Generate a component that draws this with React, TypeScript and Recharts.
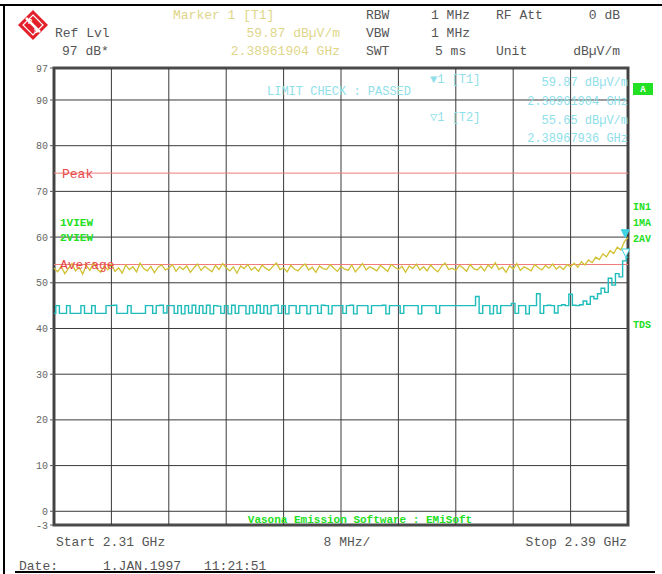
import {
  CartesianGrid,
  Line,
  LineChart,
  ReferenceArea,
  ReferenceDot,
  ReferenceLine,
  XAxis,
  YAxis,
} from "recharts";

// sweep: 2.31 .. 2.39 GHz, 161 points, 0.5 MHz apart
const startMHz = 2310;
const stopMHz = 2390;
const stepMHz = 0.5;

const xTicks = [2310, 2318, 2326, 2334, 2342, 2350, 2358, 2366, 2374, 2382, 2390];
const yTicks = [-3, 0, 10, 20, 30, 40, 50, 60, 70, 80, 90, 97];

// trace 1 (peak, 1VIEW) in dBµV/m
const trace1 = [
  53.2, 52.4, 53.6, 52.0, 53.1, 54.2, 52.6, 53.4, 51.9, 53.8, 52.7, 54.4, 53.0, 52.3, 53.7, 52.8, 54.1, 52.5, 53.3, 52.1,
  53.9, 52.9, 53.5, 52.4, 54.3, 53.1, 52.6, 53.6, 52.2, 53.4, 53.9, 52.8, 53.2, 54.0, 52.5, 53.5, 52.9, 53.7, 52.3, 53.3,
  54.1, 52.7, 53.6, 53.0, 52.4, 53.8, 52.9, 54.2, 53.3, 52.6, 53.5, 52.1, 53.7, 53.1, 54.0, 52.8, 53.4, 52.5, 53.9, 53.2,
  52.7, 53.6, 54.3, 52.9, 53.3, 52.4, 53.8, 53.0, 52.6, 53.5, 54.1, 52.8, 53.4, 52.3, 53.7, 53.1, 52.9, 54.0, 53.2, 52.5,
  53.6, 53.0, 52.7, 53.9, 52.4, 53.3, 54.2, 52.8, 53.5, 53.1, 52.6, 53.8, 53.2, 52.5, 54.0, 53.4, 52.9, 53.6, 52.3, 53.7,
  53.1, 54.1, 52.8, 53.5, 52.6, 53.9, 53.0, 52.4, 53.6, 54.3, 52.9, 53.2, 52.7, 53.8, 53.3, 52.5, 54.0, 53.1, 52.8, 53.6,
  52.6, 53.9, 53.2, 54.4, 52.9, 53.4, 52.3, 53.7, 53.0, 54.2, 52.7, 53.5, 53.1, 52.6, 54.0, 53.3, 52.8, 53.8, 53.2, 54.1,
  53.0, 53.6, 52.9, 54.0, 53.5, 54.3, 53.4, 54.6, 53.9, 55.0, 54.4, 55.6, 55.1, 56.3, 55.7, 57.0, 56.4, 57.8, 57.2, 59.0, 59.9,
];

// trace 2 (average, 2VIEW) in dBµV/m
const trace2 = [
  43.3, 45.0, 43.3, 43.3, 45.0, 43.3, 43.3, 43.3, 45.0, 43.3, 43.3, 45.0, 43.3, 43.3, 43.3, 45.0, 45.0, 45.1, 43.3, 43.3,
  43.3, 45.0, 43.3, 43.3, 43.3, 43.3, 45.0, 45.0, 43.3, 45.0, 45.1, 43.4, 45.0, 45.0, 43.3, 45.0, 43.2, 45.0, 43.4, 45.1,
  43.3, 45.0, 43.3, 45.1, 43.2, 45.0, 44.9, 43.3, 45.0, 43.2, 45.1, 43.3, 45.0, 45.0, 43.2, 45.0, 43.4, 45.1, 43.3, 45.0,
  43.2, 45.0, 45.1, 43.3, 45.0, 43.2, 45.0, 45.0, 43.3,
  45.0, 45.0, 43.2, 45.0, 45.0, 43.3, 45.1, 45.0, 43.2, 45.0, 45.0, 45.0, 43.3, 45.0, 45.1, 43.2, 45.0, 45.0, 45.0, 43.3,
  45.0, 45.0, 45.0, 45.1, 43.2, 45.0, 45.0, 45.0, 43.3, 45.0, 45.0, 45.0, 45.0, 43.2, 45.0, 45.0, 45.0, 45.0, 43.3, 45.0,
  45.0, 45.0, 45.0, 45.0, 45.0, 45.0, 45.0, 45.0, 45.0, 47.0, 43.3, 45.0, 45.0, 43.2, 45.0, 43.3, 45.0, 45.0, 45.0, 45.5,
  43.3, 45.0, 45.0, 43.2, 45.0, 45.0, 47.6, 43.3, 45.0, 45.1, 45.0, 43.4, 45.0, 45.2, 45.0, 47.5, 45.1, 45.0, 45.2, 46.0,
  45.3, 47.0, 46.5, 47.6, 48.8, 47.9, 51.0, 49.5, 52.0, 51.3, 54.8, 55.6,
];

const peakLimit = 74;
const averageLimit = 54;
const marker1 = { f: 2389.62, v: 59.87 };
const marker2 = { f: 2389.68, v: 55.65 };

const freqs = trace1.map((_, i) => startMHz + i * stepMHz);
const data = freqs.map((f, i) => ({ f, t1: trace1[i], t2: trace2[i] }));

const MONO = "'Liberation Mono', 'DejaVu Sans Mono', monospace";
const GRAY = "#555";
const PALE_YELLOW = "#e0d68a";
const PALE_CYAN = "#8fe0ea";
const GREEN = "#22e022";
const MARK = "#3fd2e2";
const GRID = "#3a3a3a";

// eslint-disable-next-line @typescript-eslint/no-explicit-any
function Tri({ cx, cy, filled }: any) {
  if (cx == null || cy == null) return null;
  return (
    <path
      d={`M${cx - 4},${cy - 8} L${cx + 4},${cy - 8} L${cx},${cy} Z`}
      fill={filled ? MARK : "#fff"}
      stroke={MARK}
      strokeWidth={1}
    />
  );
}

function T({
  x,
  y,
  children,
  fill = GRAY,
  size = 13,
  anchor = "start",
  weight = "normal",
}: {
  x: number;
  y: number;
  children: React.ReactNode;
  fill?: string;
  size?: number;
  anchor?: "start" | "middle" | "end";
  weight?: string;
}) {
  return (
    <text
      x={x}
      y={y}
      fill={fill}
      fontSize={size}
      fontFamily={MONO}
      textAnchor={anchor}
      fontWeight={weight}
    >
      {children}
    </text>
  );
}

function Overlay() {
  return (
    <svg
      width={662}
      height={574}
      style={{ position: "absolute", left: 0, top: 0, pointerEvents: "none" }}
    >
      {/* outer frame */}
      <line x1={0} y1={5} x2={662} y2={5} stroke="#000" strokeWidth={2} />
      <line x1={4} y1={5} x2={4} y2={574} stroke="#000" strokeWidth={2} />
      <line x1={15} y1={572} x2={655} y2={572} stroke="#000" strokeWidth={2} />

      {/* logo */}
      <g transform="translate(33,25)">
        <polygon points="0,-15 15,0 0,15 -15,0" fill="#e3202a" />
        <polygon points="0,-10 10,0 0,10 -10,0" fill="none" stroke="#fff" strokeWidth={1.2} />
        <line x1={-7} y1={-7} x2={7} y2={7} stroke="#fff" strokeWidth={2.5} />
        <text x={-3} y={-1} fontSize={7} fill="#fff" fontFamily={MONO} textAnchor="middle" fontWeight="bold">R</text>
        <text x={3} y={8} fontSize={7} fill="#fff" fontFamily={MONO} textAnchor="middle" fontWeight="bold">S</text>
      </g>

      {/* header */}
      <T x={173} y={19} fill={PALE_YELLOW}>Marker 1 [T1]</T>
      <T x={366} y={19}>RBW</T>
      <T x={431} y={19}>1 MHz</T>
      <T x={496} y={19}>RF Att</T>
      <T x={620} y={19} anchor="end">0 dB</T>
      <T x={55} y={37}>Ref Lvl</T>
      <T x={340} y={37} anchor="end" fill={PALE_YELLOW}>59.87 dBµV/m</T>
      <T x={366} y={37}>VBW</T>
      <T x={431} y={37}>1 MHz</T>
      <T x={62} y={55}>97 dB*</T>
      <T x={340} y={55} anchor="end" fill={PALE_YELLOW}>2.38961904 GHz</T>
      <T x={366} y={55}>SWT</T>
      <T x={435} y={55}>5 ms</T>
      <T x={496} y={55}>Unit</T>
      <T x={620} y={55} anchor="end">dBµV/m</T>

      {/* marker info */}
      <T x={267} y={95} fill={PALE_CYAN} size={12}>LIMIT CHECK : PASSED</T>
      <T x={430} y={83} fill={PALE_CYAN} size={12}>▼1 [T1]</T>
      <T x={628} y={86} anchor="end" fill={PALE_CYAN} size={12}>59.87 dBµV/m</T>
      <T x={628} y={105} anchor="end" fill={PALE_CYAN} size={12}>2.38961904 GHz</T>
      <T x={430} y={121} fill={PALE_CYAN} size={12}>▽1 [T2]</T>
      <T x={628} y={124} anchor="end" fill={PALE_CYAN} size={12}>55.65 dBµV/m</T>
      <T x={628} y={142} anchor="end" fill={PALE_CYAN} size={12}>2.38967936 GHz</T>

      <rect x={633} y={83} width={20} height={12} fill={GREEN} />
      <T x={643} y={92} anchor="middle" fill="#fff" size={9} weight="bold">A</T>

      {/* trace labels */}
      <T x={60} y={226} fill={GREEN} size={11} weight="bold">1VIEW</T>
      <T x={60} y={241} fill={GREEN} size={11} weight="bold">2VIEW</T>
      <T x={633} y={210} fill={GREEN} size={10} weight="bold">IN1</T>
      <T x={633} y={226} fill={GREEN} size={10} weight="bold">1MA</T>
      <T x={633} y={242} fill={GREEN} size={10} weight="bold">2AV</T>
      <T x={633} y={328} fill={GREEN} size={10} weight="bold">TDS</T>

      <T x={360} y={523} anchor="middle" fill={GREEN} size={11} weight="bold">
        Vasona Emission Software : EMiSoft
      </T>

      {/* footer */}
      <T x={56} y={546}>Start 2.31 GHz</T>
      <T x={347} y={546} anchor="middle">8 MHz/</T>
      <T x={627} y={546} anchor="end">Stop 2.39 GHz</T>
      <T x={19} y={570}>Date:</T>
      <T x={103} y={570}>1.JAN.1997</T>
      <T x={204} y={570}>11:21:51</T>
    </svg>
  );
}

export default function App() {
  return (
    <div
      style={{
        position: "absolute",
        left: 0,
        top: 0,
        width: 662,
        height: 574,
        background: "#fff",
      }}
    >
      <LineChart
        width={662}
        height={574}
        data={data}
        margin={{ top: 68, right: 34, bottom: 48, left: 0 }}
      >
        <CartesianGrid stroke={GRID} strokeWidth={1} vertical={false} />
        <XAxis
          dataKey="f"
          type="number"
          domain={[startMHz, stopMHz]}
          ticks={xTicks}
          tick={false}
          tickLine={false}
          axisLine={false}
          height={1}
        />
        <YAxis
          type="number"
          domain={[-3, 97]}
          ticks={yTicks}
          interval={0}
          width={54}
          tickSize={4}
          tickMargin={2}
          tickLine={{ stroke: GRAY }}
          axisLine={false}
          tick={{ fontSize: 10, fill: "#666", fontFamily: MONO }}
        />
        {xTicks.map((t) => (
          <ReferenceLine key={t} x={t} stroke={GRID} strokeWidth={1} />
        ))}
        <ReferenceLine
          y={peakLimit}
          stroke="#f07c7c"
          strokeWidth={1}
          label={{
            value: "Peak",
            position: "insideLeft",
            fill: "#e84a4a",
            fontSize: 13,
            fontFamily: MONO,
            offset: 8,
          }}
        />
        <ReferenceLine
          y={averageLimit}
          stroke="#f07c7c"
          strokeWidth={1}
          label={{
            value: "Average",
            position: "insideLeft",
            fill: "#e84a4a",
            fontSize: 13,
            fontFamily: MONO,
            offset: 6,
          }}
        />
        <Line
          type="step"
          dataKey="t2"
          stroke="#1fbcbc"
          strokeWidth={1.4}
          dot={false}
          isAnimationActive={false}
        />
        <Line
          type="linear"
          dataKey="t1"
          stroke="#d2c032"
          strokeWidth={1.3}
          dot={false}
          isAnimationActive={false}
        />
        <ReferenceArea
          x1={startMHz}
          x2={stopMHz}
          y1={-3}
          y2={97}
          fill="none"
          fillOpacity={0}
          stroke="#4a4a4a"
          strokeWidth={3}
        />
        <ReferenceDot
          x={marker1.f}
          y={marker1.v}
          r={4}
          shape={(p: any) => <Tri {...p} filled />}
        />
        <ReferenceDot
          x={marker2.f}
          y={marker2.v}
          r={4}
          shape={(p: any) => <Tri {...p} filled={false} />}
        />
      </LineChart>
      <Overlay />
    </div>
  );
}
